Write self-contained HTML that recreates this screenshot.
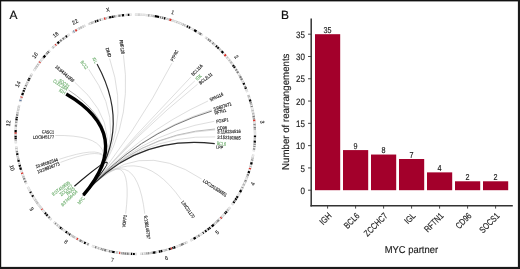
<!DOCTYPE html>
<html><head><meta charset="utf-8"><style>
html,body{margin:0;padding:0;background:#fff;}
body{width:520px;height:269px;overflow:hidden;position:relative;}
svg{position:absolute;left:0;top:0;will-change:transform;}
text{font-family:"Liberation Sans",sans-serif;text-rendering:geometricPrecision;}
</style></head><body>
<svg width="520" height="269" viewBox="0 0 520 269">
<rect x="0" y="0" width="520" height="269" fill="#fff"/>
<text x="0" y="0" transform="translate(9.60 18.70)" font-size="11.9" text-anchor="start" fill="#111" stroke="#111" stroke-width="0.2">A</text>
<text x="0" y="0" transform="translate(281.00 18.50)" font-size="11.9" text-anchor="start" fill="#111" stroke="#111" stroke-width="0.2">B</text>
<path d="M134.88,14.60A119.7,119.7 0 0 1 202.64,35.34" stroke="#d4d4d4" stroke-width="2.4" fill="none"/>
<path d="M135.20,14.60A119.7,119.7 0 0 1 202.38,35.16" stroke="#f2f2f2" stroke-width="1.40" fill="none"/>
<path d="M135.55,14.60A119.7,119.7 0 0 1 136.41,14.61" stroke="#dedede" stroke-width="2.20" fill="none"/>
<path d="M136.93,14.61A119.7,119.7 0 0 1 137.51,14.62" stroke="#dedede" stroke-width="2.20" fill="none"/>
<path d="M138.49,14.64A119.7,119.7 0 0 1 139.47,14.67" stroke="#b8b8b8" stroke-width="2.20" fill="none"/>
<path d="M140.68,14.72A119.7,119.7 0 0 1 141.69,14.77" stroke="#dedede" stroke-width="2.20" fill="none"/>
<path d="M142.84,14.84A119.7,119.7 0 0 1 143.51,14.88" stroke="#dedede" stroke-width="2.20" fill="none"/>
<path d="M144.20,14.93A119.7,119.7 0 0 1 144.77,14.98" stroke="#dedede" stroke-width="2.20" fill="none"/>
<path d="M146.30,15.11A119.7,119.7 0 0 1 147.47,15.22" stroke="#dedede" stroke-width="2.20" fill="none"/>
<path d="M148.22,15.30A119.7,119.7 0 0 1 149.34,15.43" stroke="#7a7a7a" stroke-width="2.20" fill="none"/>
<path d="M150.88,15.62A119.7,119.7 0 0 1 151.71,15.73" stroke="#b8b8b8" stroke-width="2.20" fill="none"/>
<path d="M152.37,15.82A119.7,119.7 0 0 1 154.57,16.16" stroke="#b8b8b8" stroke-width="2.20" fill="none"/>
<path d="M154.80,16.20A119.7,119.7 0 0 1 159.08,16.99" stroke="#000000" stroke-width="2.20" fill="none"/>
<path d="M160.07,17.19A119.7,119.7 0 0 1 161.09,17.41" stroke="#7a7a7a" stroke-width="2.20" fill="none"/>
<path d="M161.88,17.59A119.7,119.7 0 0 1 163.28,17.92" stroke="#7a7a7a" stroke-width="2.20" fill="none"/>
<path d="M163.98,18.09A119.7,119.7 0 0 1 165.35,18.43" stroke="#000000" stroke-width="2.20" fill="none"/>
<path d="M166.61,18.77A119.7,119.7 0 0 1 167.67,19.06" stroke="#b8b8b8" stroke-width="2.20" fill="none"/>
<path d="M168.44,19.28A119.7,119.7 0 0 1 169.25,19.51" stroke="#b8b8b8" stroke-width="2.20" fill="none"/>
<path d="M169.47,19.58A119.7,119.7 0 0 1 171.51,20.21" stroke="#d92f27" stroke-width="2.20" fill="none"/>
<path d="M171.51,20.21A119.7,119.7 0 0 1 175.26,21.47" stroke="#dcdcdc" stroke-width="2.20" fill="none"/>
<path d="M176.45,21.90A119.7,119.7 0 0 1 177.34,22.23" stroke="#b8b8b8" stroke-width="2.20" fill="none"/>
<path d="M178.61,22.71A119.7,119.7 0 0 1 179.02,22.87" stroke="#b8b8b8" stroke-width="2.20" fill="none"/>
<path d="M179.71,23.14A119.7,119.7 0 0 1 180.09,23.30" stroke="#b8b8b8" stroke-width="2.20" fill="none"/>
<path d="M181.42,23.84A119.7,119.7 0 0 1 181.88,24.03" stroke="#b8b8b8" stroke-width="2.20" fill="none"/>
<path d="M182.86,24.45A119.7,119.7 0 0 1 183.39,24.68" stroke="#7a7a7a" stroke-width="2.20" fill="none"/>
<path d="M184.20,25.05A119.7,119.7 0 0 1 185.33,25.56" stroke="#b8b8b8" stroke-width="2.20" fill="none"/>
<path d="M186.77,26.23A119.7,119.7 0 0 1 188.07,26.86" stroke="#000000" stroke-width="2.20" fill="none"/>
<path d="M188.85,27.24A119.7,119.7 0 0 1 190.11,27.89" stroke="#000000" stroke-width="2.20" fill="none"/>
<path d="M192.28,29.03A119.7,119.7 0 0 1 193.37,29.63" stroke="#dedede" stroke-width="2.20" fill="none"/>
<path d="M194.12,30.05A119.7,119.7 0 0 1 196.52,31.44" stroke="#000000" stroke-width="2.20" fill="none"/>
<path d="M198.39,32.58A119.7,119.7 0 0 1 199.59,33.33" stroke="#b8b8b8" stroke-width="2.20" fill="none"/>
<path d="M199.59,33.33A119.7,119.7 0 0 1 201.31,34.45" stroke="#7a7a7a" stroke-width="2.20" fill="none"/>
<path d="M205.21,37.13A119.7,119.7 0 0 1 247.30,92.05" stroke="#d4d4d4" stroke-width="2.4" fill="none"/>
<path d="M205.46,37.32A119.7,119.7 0 0 1 247.19,91.76" stroke="#f2f2f2" stroke-width="1.40" fill="none"/>
<path d="M206.23,37.88A119.7,119.7 0 0 1 206.86,38.35" stroke="#b8b8b8" stroke-width="2.20" fill="none"/>
<path d="M208.03,39.23A119.7,119.7 0 0 1 209.06,40.03" stroke="#7a7a7a" stroke-width="2.20" fill="none"/>
<path d="M209.63,40.47A119.7,119.7 0 0 1 210.71,41.34" stroke="#7a7a7a" stroke-width="2.20" fill="none"/>
<path d="M211.58,42.05A119.7,119.7 0 0 1 212.05,42.44" stroke="#dedede" stroke-width="2.20" fill="none"/>
<path d="M212.51,42.83A119.7,119.7 0 0 1 213.50,43.67" stroke="#7a7a7a" stroke-width="2.20" fill="none"/>
<path d="M213.94,44.05A119.7,119.7 0 0 1 214.63,44.66" stroke="#b8b8b8" stroke-width="2.20" fill="none"/>
<path d="M215.92,45.82A119.7,119.7 0 0 1 217.00,46.82" stroke="#000000" stroke-width="2.20" fill="none"/>
<path d="M217.44,47.23A119.7,119.7 0 0 1 218.75,48.49" stroke="#000000" stroke-width="2.20" fill="none"/>
<path d="M219.33,49.05A119.7,119.7 0 0 1 220.25,49.97" stroke="#b8b8b8" stroke-width="2.20" fill="none"/>
<path d="M220.84,50.57A119.7,119.7 0 0 1 221.24,50.98" stroke="#b8b8b8" stroke-width="2.20" fill="none"/>
<path d="M221.54,51.29A119.7,119.7 0 0 1 223.19,53.03" stroke="#000000" stroke-width="2.20" fill="none"/>
<path d="M224.58,54.57A119.7,119.7 0 0 1 225.78,55.94" stroke="#d92f27" stroke-width="2.20" fill="none"/>
<path d="M226.89,57.23A119.7,119.7 0 0 1 227.50,57.96" stroke="#b8b8b8" stroke-width="2.20" fill="none"/>
<path d="M227.78,58.30A119.7,119.7 0 0 1 228.27,58.90" stroke="#dedede" stroke-width="2.20" fill="none"/>
<path d="M229.03,59.85A119.7,119.7 0 0 1 229.81,60.85" stroke="#b8b8b8" stroke-width="2.20" fill="none"/>
<path d="M230.45,61.67A119.7,119.7 0 0 1 231.74,63.40" stroke="#b8b8b8" stroke-width="2.20" fill="none"/>
<path d="M232.19,64.01A119.7,119.7 0 0 1 232.63,64.62" stroke="#dedede" stroke-width="2.20" fill="none"/>
<path d="M232.91,65.02A119.7,119.7 0 0 1 233.80,66.29" stroke="#000000" stroke-width="2.20" fill="none"/>
<path d="M234.11,66.74A119.7,119.7 0 0 1 234.86,67.84" stroke="#000000" stroke-width="2.20" fill="none"/>
<path d="M235.05,68.13A119.7,119.7 0 0 1 235.15,68.28" stroke="#dedede" stroke-width="2.20" fill="none"/>
<path d="M235.84,69.34A119.7,119.7 0 0 1 236.60,70.53" stroke="#7a7a7a" stroke-width="2.20" fill="none"/>
<path d="M237.20,71.49A119.7,119.7 0 0 1 238.09,72.97" stroke="#7a7a7a" stroke-width="2.20" fill="none"/>
<path d="M239.30,75.04A119.7,119.7 0 0 1 239.67,75.69" stroke="#b8b8b8" stroke-width="2.20" fill="none"/>
<path d="M240.01,76.30A119.7,119.7 0 0 1 240.89,77.92" stroke="#7a7a7a" stroke-width="2.20" fill="none"/>
<path d="M241.23,78.56A119.7,119.7 0 0 1 241.96,79.97" stroke="#7a7a7a" stroke-width="2.20" fill="none"/>
<path d="M242.72,81.49A119.7,119.7 0 0 1 242.92,81.90" stroke="#b8b8b8" stroke-width="2.20" fill="none"/>
<path d="M243.44,82.97A119.7,119.7 0 0 1 244.20,84.62" stroke="#000000" stroke-width="2.20" fill="none"/>
<path d="M244.93,86.25A119.7,119.7 0 0 1 245.36,87.23" stroke="#7a7a7a" stroke-width="2.20" fill="none"/>
<path d="M245.46,87.47A119.7,119.7 0 0 1 246.01,88.78" stroke="#000000" stroke-width="2.20" fill="none"/>
<path d="M246.50,90.01A119.7,119.7 0 0 1 246.68,90.46" stroke="#b8b8b8" stroke-width="2.20" fill="none"/>
<path d="M248.36,95.00A119.7,119.7 0 0 1 253.78,151.35" stroke="#d4d4d4" stroke-width="2.4" fill="none"/>
<path d="M248.47,95.29A119.7,119.7 0 0 1 253.82,151.04" stroke="#f2f2f2" stroke-width="1.40" fill="none"/>
<path d="M248.36,95.00A119.7,119.7 0 0 1 248.63,95.76" stroke="#b8b8b8" stroke-width="2.20" fill="none"/>
<path d="M248.74,96.09A119.7,119.7 0 0 1 249.16,97.38" stroke="#b8b8b8" stroke-width="2.20" fill="none"/>
<path d="M249.44,98.23A119.7,119.7 0 0 1 249.57,98.64" stroke="#dedede" stroke-width="2.20" fill="none"/>
<path d="M249.83,99.50A119.7,119.7 0 0 1 250.44,101.57" stroke="#000000" stroke-width="2.20" fill="none"/>
<path d="M250.63,102.27A119.7,119.7 0 0 1 250.98,103.52" stroke="#7a7a7a" stroke-width="2.20" fill="none"/>
<path d="M251.06,103.86A119.7,119.7 0 0 1 251.38,105.09" stroke="#b8b8b8" stroke-width="2.20" fill="none"/>
<path d="M251.58,105.90A119.7,119.7 0 0 1 251.87,107.11" stroke="#7a7a7a" stroke-width="2.20" fill="none"/>
<path d="M252.31,109.05A119.7,119.7 0 0 1 252.41,109.53" stroke="#dedede" stroke-width="2.20" fill="none"/>
<path d="M252.53,110.12A119.7,119.7 0 0 1 252.77,111.31" stroke="#b8b8b8" stroke-width="2.20" fill="none"/>
<path d="M253.05,112.76A119.7,119.7 0 0 1 253.35,114.49" stroke="#b8b8b8" stroke-width="2.20" fill="none"/>
<path d="M253.55,115.75A119.7,119.7 0 0 1 253.79,117.34" stroke="#7a7a7a" stroke-width="2.20" fill="none"/>
<path d="M253.94,118.40A119.7,119.7 0 0 1 254.08,119.46" stroke="#7a7a7a" stroke-width="2.20" fill="none"/>
<path d="M254.10,119.66A119.7,119.7 0 0 1 254.30,121.38" stroke="#d92f27" stroke-width="2.20" fill="none"/>
<path d="M254.30,121.38A119.7,119.7 0 0 1 254.43,122.64" stroke="#dcdcdc" stroke-width="2.20" fill="none"/>
<path d="M254.48,123.13A119.7,119.7 0 0 1 254.50,123.39" stroke="#dedede" stroke-width="2.20" fill="none"/>
<path d="M254.55,123.94A119.7,119.7 0 0 1 254.63,124.92" stroke="#7a7a7a" stroke-width="2.20" fill="none"/>
<path d="M254.67,125.40A119.7,119.7 0 0 1 254.74,126.38" stroke="#b8b8b8" stroke-width="2.20" fill="none"/>
<path d="M254.78,127.02A119.7,119.7 0 0 1 254.84,128.11" stroke="#7a7a7a" stroke-width="2.20" fill="none"/>
<path d="M254.86,128.60A119.7,119.7 0 0 1 254.90,129.44" stroke="#7a7a7a" stroke-width="2.20" fill="none"/>
<path d="M254.92,129.99A119.7,119.7 0 0 1 254.94,130.56" stroke="#dedede" stroke-width="2.20" fill="none"/>
<path d="M254.97,131.54A119.7,119.7 0 0 1 254.99,132.84" stroke="#dedede" stroke-width="2.20" fill="none"/>
<path d="M255.00,133.42A119.7,119.7 0 0 1 255.00,134.29" stroke="#dedede" stroke-width="2.20" fill="none"/>
<path d="M254.99,135.47A119.7,119.7 0 0 1 254.96,137.23" stroke="#000000" stroke-width="2.20" fill="none"/>
<path d="M254.94,138.15A119.7,119.7 0 0 1 254.91,138.99" stroke="#b8b8b8" stroke-width="2.20" fill="none"/>
<path d="M254.88,139.57A119.7,119.7 0 0 1 254.86,140.14" stroke="#b8b8b8" stroke-width="2.20" fill="none"/>
<path d="M254.83,140.63A119.7,119.7 0 0 1 254.71,142.62" stroke="#000000" stroke-width="2.20" fill="none"/>
<path d="M254.64,143.57A119.7,119.7 0 0 1 254.53,144.95" stroke="#7a7a7a" stroke-width="2.20" fill="none"/>
<path d="M254.44,145.90A119.7,119.7 0 0 1 254.33,146.96" stroke="#7a7a7a" stroke-width="2.20" fill="none"/>
<path d="M254.27,147.48A119.7,119.7 0 0 1 254.22,147.91" stroke="#dedede" stroke-width="2.20" fill="none"/>
<path d="M254.16,148.45A119.7,119.7 0 0 1 254.00,149.71" stroke="#7a7a7a" stroke-width="2.20" fill="none"/>
<path d="M253.29,154.44A119.7,119.7 0 0 1 232.02,204.82" stroke="#d4d4d4" stroke-width="2.4" fill="none"/>
<path d="M253.24,154.75A119.7,119.7 0 0 1 232.21,204.57" stroke="#f2f2f2" stroke-width="1.40" fill="none"/>
<path d="M253.07,155.72A119.7,119.7 0 0 1 252.99,156.15" stroke="#dedede" stroke-width="2.20" fill="none"/>
<path d="M252.70,157.65A119.7,119.7 0 0 1 252.48,158.75" stroke="#b8b8b8" stroke-width="2.20" fill="none"/>
<path d="M252.32,159.49A119.7,119.7 0 0 1 252.10,160.47" stroke="#7a7a7a" stroke-width="2.20" fill="none"/>
<path d="M251.69,162.27A119.7,119.7 0 0 1 251.12,164.54" stroke="#000000" stroke-width="2.20" fill="none"/>
<path d="M250.71,166.05A119.7,119.7 0 0 1 250.45,166.99" stroke="#b8b8b8" stroke-width="2.20" fill="none"/>
<path d="M250.16,167.99A119.7,119.7 0 0 1 249.79,169.23" stroke="#d92f27" stroke-width="2.20" fill="none"/>
<path d="M249.20,171.11A119.7,119.7 0 0 1 248.55,173.05" stroke="#000000" stroke-width="2.20" fill="none"/>
<path d="M248.18,174.11A119.7,119.7 0 0 1 247.62,175.69" stroke="#7a7a7a" stroke-width="2.20" fill="none"/>
<path d="M247.35,176.39A119.7,119.7 0 0 1 247.00,177.34" stroke="#b8b8b8" stroke-width="2.20" fill="none"/>
<path d="M246.82,177.79A119.7,119.7 0 0 1 246.52,178.55" stroke="#dedede" stroke-width="2.20" fill="none"/>
<path d="M245.88,180.12A119.7,119.7 0 0 1 245.47,181.11" stroke="#7a7a7a" stroke-width="2.20" fill="none"/>
<path d="M245.31,181.48A119.7,119.7 0 0 1 245.06,182.06" stroke="#7a7a7a" stroke-width="2.20" fill="none"/>
<path d="M244.28,183.80A119.7,119.7 0 0 1 243.49,185.51" stroke="#b8b8b8" stroke-width="2.20" fill="none"/>
<path d="M242.65,187.25A119.7,119.7 0 0 1 242.28,188.00" stroke="#7a7a7a" stroke-width="2.20" fill="none"/>
<path d="M241.61,189.31A119.7,119.7 0 0 1 241.32,189.87" stroke="#b8b8b8" stroke-width="2.20" fill="none"/>
<path d="M241.18,190.13A119.7,119.7 0 0 1 240.03,192.26" stroke="#000000" stroke-width="2.20" fill="none"/>
<path d="M239.75,192.76A119.7,119.7 0 0 1 239.00,194.09" stroke="#dedede" stroke-width="2.20" fill="none"/>
<path d="M238.75,194.52A119.7,119.7 0 0 1 238.37,195.17" stroke="#dedede" stroke-width="2.20" fill="none"/>
<path d="M237.70,196.28A119.7,119.7 0 0 1 236.77,197.80" stroke="#000000" stroke-width="2.20" fill="none"/>
<path d="M236.35,198.46A119.7,119.7 0 0 1 235.47,199.82" stroke="#000000" stroke-width="2.20" fill="none"/>
<path d="M235.19,200.26A119.7,119.7 0 0 1 234.48,201.31" stroke="#7a7a7a" stroke-width="2.20" fill="none"/>
<path d="M234.29,201.60A119.7,119.7 0 0 1 233.36,202.95" stroke="#000000" stroke-width="2.20" fill="none"/>
<path d="M232.71,203.87A119.7,119.7 0 0 1 232.02,204.82" stroke="#dedede" stroke-width="2.20" fill="none"/>
<path d="M230.14,207.33A119.7,119.7 0 0 1 190.40,240.56" stroke="#d4d4d4" stroke-width="2.4" fill="none"/>
<path d="M229.95,207.58A119.7,119.7 0 0 1 190.68,240.42" stroke="#f2f2f2" stroke-width="1.40" fill="none"/>
<path d="M229.34,208.35A119.7,119.7 0 0 1 229.02,208.76" stroke="#dedede" stroke-width="2.20" fill="none"/>
<path d="M228.39,209.55A119.7,119.7 0 0 1 227.44,210.71" stroke="#b8b8b8" stroke-width="2.20" fill="none"/>
<path d="M226.81,211.46A119.7,119.7 0 0 1 225.89,212.54" stroke="#000000" stroke-width="2.20" fill="none"/>
<path d="M225.65,212.82A119.7,119.7 0 0 1 224.83,213.75" stroke="#000000" stroke-width="2.20" fill="none"/>
<path d="M223.88,214.81A119.7,119.7 0 0 1 222.98,215.78" stroke="#dedede" stroke-width="2.20" fill="none"/>
<path d="M222.17,216.65A119.7,119.7 0 0 1 221.46,217.40" stroke="#b8b8b8" stroke-width="2.20" fill="none"/>
<path d="M221.46,217.40A119.7,119.7 0 0 1 220.53,218.35" stroke="#d92f27" stroke-width="2.20" fill="none"/>
<path d="M218.85,220.02A119.7,119.7 0 0 1 218.02,220.82" stroke="#7a7a7a" stroke-width="2.20" fill="none"/>
<path d="M217.96,220.88A119.7,119.7 0 0 1 217.22,221.57" stroke="#7a7a7a" stroke-width="2.20" fill="none"/>
<path d="M216.87,221.91A119.7,119.7 0 0 1 215.83,222.87" stroke="#b8b8b8" stroke-width="2.20" fill="none"/>
<path d="M215.05,223.56A119.7,119.7 0 0 1 214.08,224.42" stroke="#b8b8b8" stroke-width="2.20" fill="none"/>
<path d="M213.78,224.69A119.7,119.7 0 0 1 211.68,226.46" stroke="#000000" stroke-width="2.20" fill="none"/>
<path d="M210.37,227.54A119.7,119.7 0 0 1 209.33,228.36" stroke="#000000" stroke-width="2.20" fill="none"/>
<path d="M208.94,228.67A119.7,119.7 0 0 1 207.78,229.57" stroke="#000000" stroke-width="2.20" fill="none"/>
<path d="M207.34,229.90A119.7,119.7 0 0 1 206.97,230.17" stroke="#b8b8b8" stroke-width="2.20" fill="none"/>
<path d="M206.48,230.53A119.7,119.7 0 0 1 205.04,231.59" stroke="#000000" stroke-width="2.20" fill="none"/>
<path d="M203.64,232.57A119.7,119.7 0 0 1 202.86,233.11" stroke="#000000" stroke-width="2.20" fill="none"/>
<path d="M201.52,234.01A119.7,119.7 0 0 1 200.72,234.54" stroke="#dedede" stroke-width="2.20" fill="none"/>
<path d="M199.51,235.32A119.7,119.7 0 0 1 198.22,236.13" stroke="#7a7a7a" stroke-width="2.20" fill="none"/>
<path d="M197.50,236.57A119.7,119.7 0 0 1 196.76,237.02" stroke="#b8b8b8" stroke-width="2.20" fill="none"/>
<path d="M195.72,237.63A119.7,119.7 0 0 1 193.56,238.86" stroke="#000000" stroke-width="2.20" fill="none"/>
<path d="M192.47,239.46A119.7,119.7 0 0 1 191.51,239.98" stroke="#dedede" stroke-width="2.20" fill="none"/>
<path d="M187.60,241.97A119.7,119.7 0 0 1 140.04,253.91" stroke="#d4d4d4" stroke-width="2.4" fill="none"/>
<path d="M187.32,242.10A119.7,119.7 0 0 1 140.35,253.89" stroke="#f2f2f2" stroke-width="1.40" fill="none"/>
<path d="M187.01,242.26A119.7,119.7 0 0 1 186.51,242.49" stroke="#dedede" stroke-width="2.20" fill="none"/>
<path d="M185.75,242.85A119.7,119.7 0 0 1 184.84,243.27" stroke="#b8b8b8" stroke-width="2.20" fill="none"/>
<path d="M184.57,243.39A119.7,119.7 0 0 1 184.10,243.60" stroke="#dedede" stroke-width="2.20" fill="none"/>
<path d="M183.62,243.81A119.7,119.7 0 0 1 180.97,244.95" stroke="#7a7a7a" stroke-width="2.20" fill="none"/>
<path d="M180.49,245.14A119.7,119.7 0 0 1 179.58,245.51" stroke="#b8b8b8" stroke-width="2.20" fill="none"/>
<path d="M179.12,245.69A119.7,119.7 0 0 1 178.75,245.84" stroke="#dedede" stroke-width="2.20" fill="none"/>
<path d="M177.91,246.16A119.7,119.7 0 0 1 176.86,246.55" stroke="#dedede" stroke-width="2.20" fill="none"/>
<path d="M175.31,247.11A119.7,119.7 0 0 1 173.78,247.64" stroke="#000000" stroke-width="2.20" fill="none"/>
<path d="M173.48,247.75A119.7,119.7 0 0 1 172.36,248.12" stroke="#000000" stroke-width="2.20" fill="none"/>
<path d="M171.89,248.27A119.7,119.7 0 0 1 170.63,248.67" stroke="#d92f27" stroke-width="2.20" fill="none"/>
<path d="M170.60,248.68A119.7,119.7 0 0 1 168.77,249.22" stroke="#000000" stroke-width="2.20" fill="none"/>
<path d="M167.14,249.69A119.7,119.7 0 0 1 164.90,250.28" stroke="#b8b8b8" stroke-width="2.20" fill="none"/>
<path d="M164.63,250.35A119.7,119.7 0 0 1 163.76,250.57" stroke="#b8b8b8" stroke-width="2.20" fill="none"/>
<path d="M162.33,250.91A119.7,119.7 0 0 1 160.52,251.31" stroke="#000000" stroke-width="2.20" fill="none"/>
<path d="M160.21,251.38A119.7,119.7 0 0 1 158.83,251.67" stroke="#000000" stroke-width="2.20" fill="none"/>
<path d="M156.25,252.15A119.7,119.7 0 0 1 155.19,252.34" stroke="#7a7a7a" stroke-width="2.20" fill="none"/>
<path d="M155.14,252.34A119.7,119.7 0 0 1 152.97,252.69" stroke="#000000" stroke-width="2.20" fill="none"/>
<path d="M152.69,252.73A119.7,119.7 0 0 1 151.77,252.86" stroke="#7a7a7a" stroke-width="2.20" fill="none"/>
<path d="M151.51,252.90A119.7,119.7 0 0 1 150.37,253.05" stroke="#b8b8b8" stroke-width="2.20" fill="none"/>
<path d="M149.28,253.18A119.7,119.7 0 0 1 148.19,253.30" stroke="#7a7a7a" stroke-width="2.20" fill="none"/>
<path d="M147.39,253.39A119.7,119.7 0 0 1 146.41,253.48" stroke="#7a7a7a" stroke-width="2.20" fill="none"/>
<path d="M145.40,253.57A119.7,119.7 0 0 1 144.54,253.64" stroke="#b8b8b8" stroke-width="2.20" fill="none"/>
<path d="M142.96,253.75A119.7,119.7 0 0 1 141.95,253.82" stroke="#b8b8b8" stroke-width="2.20" fill="none"/>
<path d="M136.91,253.99A119.7,119.7 0 0 1 91.98,245.89" stroke="#d4d4d4" stroke-width="2.4" fill="none"/>
<path d="M136.59,253.99A119.7,119.7 0 0 1 92.28,246.00" stroke="#f2f2f2" stroke-width="1.40" fill="none"/>
<path d="M136.10,254.00A119.7,119.7 0 0 1 135.61,254.00" stroke="#dedede" stroke-width="2.20" fill="none"/>
<path d="M134.80,254.00A119.7,119.7 0 0 1 132.93,253.98" stroke="#000000" stroke-width="2.20" fill="none"/>
<path d="M132.15,253.96A119.7,119.7 0 0 1 130.88,253.92" stroke="#000000" stroke-width="2.20" fill="none"/>
<path d="M129.55,253.86A119.7,119.7 0 0 1 128.83,253.83" stroke="#b8b8b8" stroke-width="2.20" fill="none"/>
<path d="M128.60,253.81A119.7,119.7 0 0 1 126.81,253.70" stroke="#7a7a7a" stroke-width="2.20" fill="none"/>
<path d="M126.18,253.65A119.7,119.7 0 0 1 124.43,253.51" stroke="#7a7a7a" stroke-width="2.20" fill="none"/>
<path d="M123.82,253.45A119.7,119.7 0 0 1 122.79,253.34" stroke="#7a7a7a" stroke-width="2.20" fill="none"/>
<path d="M122.36,253.30A119.7,119.7 0 0 1 121.35,253.18" stroke="#7a7a7a" stroke-width="2.20" fill="none"/>
<path d="M120.21,253.04A119.7,119.7 0 0 1 119.15,252.91" stroke="#d92f27" stroke-width="2.20" fill="none"/>
<path d="M117.64,252.69A119.7,119.7 0 0 1 116.15,252.46" stroke="#b8b8b8" stroke-width="2.20" fill="none"/>
<path d="M114.64,252.20A119.7,119.7 0 0 1 112.12,251.73" stroke="#000000" stroke-width="2.20" fill="none"/>
<path d="M111.61,251.63A119.7,119.7 0 0 1 110.79,251.46" stroke="#7a7a7a" stroke-width="2.20" fill="none"/>
<path d="M110.31,251.36A119.7,119.7 0 0 1 108.84,251.04" stroke="#7a7a7a" stroke-width="2.20" fill="none"/>
<path d="M107.21,250.66A119.7,119.7 0 0 1 107.02,250.61" stroke="#b8b8b8" stroke-width="2.20" fill="none"/>
<path d="M106.21,250.41A119.7,119.7 0 0 1 104.19,249.89" stroke="#7a7a7a" stroke-width="2.20" fill="none"/>
<path d="M103.41,249.68A119.7,119.7 0 0 1 102.39,249.39" stroke="#7a7a7a" stroke-width="2.20" fill="none"/>
<path d="M101.64,249.17A119.7,119.7 0 0 1 100.72,248.90" stroke="#7a7a7a" stroke-width="2.20" fill="none"/>
<path d="M100.15,248.72A119.7,119.7 0 0 1 99.81,248.62" stroke="#dedede" stroke-width="2.20" fill="none"/>
<path d="M99.21,248.43A119.7,119.7 0 0 1 97.67,247.93" stroke="#b8b8b8" stroke-width="2.20" fill="none"/>
<path d="M96.33,247.48A119.7,119.7 0 0 1 95.02,247.02" stroke="#7a7a7a" stroke-width="2.20" fill="none"/>
<path d="M93.75,246.56A119.7,119.7 0 0 1 93.07,246.30" stroke="#dedede" stroke-width="2.20" fill="none"/>
<path d="M89.08,244.72A119.7,119.7 0 0 1 53.76,221.94" stroke="#d4d4d4" stroke-width="2.4" fill="none"/>
<path d="M88.79,244.59A119.7,119.7 0 0 1 53.99,222.15" stroke="#f2f2f2" stroke-width="1.40" fill="none"/>
<path d="M88.49,244.47A119.7,119.7 0 0 1 87.43,244.01" stroke="#7a7a7a" stroke-width="2.20" fill="none"/>
<path d="M85.72,243.25A119.7,119.7 0 0 1 84.07,242.48" stroke="#000000" stroke-width="2.20" fill="none"/>
<path d="M82.95,241.95A119.7,119.7 0 0 1 81.89,241.42" stroke="#b8b8b8" stroke-width="2.20" fill="none"/>
<path d="M81.53,241.24A119.7,119.7 0 0 1 79.55,240.23" stroke="#7a7a7a" stroke-width="2.20" fill="none"/>
<path d="M79.09,239.98A119.7,119.7 0 0 1 78.74,239.79" stroke="#dedede" stroke-width="2.20" fill="none"/>
<path d="M77.87,239.32A119.7,119.7 0 0 1 76.61,238.62" stroke="#d92f27" stroke-width="2.20" fill="none"/>
<path d="M75.58,238.04A119.7,119.7 0 0 1 75.48,237.98" stroke="#7a7a7a" stroke-width="2.20" fill="none"/>
<path d="M74.76,237.56A119.7,119.7 0 0 1 73.25,236.66" stroke="#b8b8b8" stroke-width="2.20" fill="none"/>
<path d="M73.10,236.57A119.7,119.7 0 0 1 72.16,236.00" stroke="#b8b8b8" stroke-width="2.20" fill="none"/>
<path d="M71.67,235.69A119.7,119.7 0 0 1 71.06,235.30" stroke="#b8b8b8" stroke-width="2.20" fill="none"/>
<path d="M70.24,234.77A119.7,119.7 0 0 1 69.18,234.08" stroke="#000000" stroke-width="2.20" fill="none"/>
<path d="M68.74,233.79A119.7,119.7 0 0 1 67.67,233.06" stroke="#7a7a7a" stroke-width="2.20" fill="none"/>
<path d="M67.12,232.69A119.7,119.7 0 0 1 65.61,231.62" stroke="#000000" stroke-width="2.20" fill="none"/>
<path d="M64.28,230.66A119.7,119.7 0 0 1 63.68,230.21" stroke="#dedede" stroke-width="2.20" fill="none"/>
<path d="M62.62,229.41A119.7,119.7 0 0 1 61.64,228.65" stroke="#7a7a7a" stroke-width="2.20" fill="none"/>
<path d="M61.27,228.36A119.7,119.7 0 0 1 60.01,227.36" stroke="#000000" stroke-width="2.20" fill="none"/>
<path d="M59.67,227.08A119.7,119.7 0 0 1 58.94,226.48" stroke="#b8b8b8" stroke-width="2.20" fill="none"/>
<path d="M57.88,225.59A119.7,119.7 0 0 1 56.96,224.80" stroke="#b8b8b8" stroke-width="2.20" fill="none"/>
<path d="M55.89,223.87A119.7,119.7 0 0 1 55.14,223.19" stroke="#7a7a7a" stroke-width="2.20" fill="none"/>
<path d="M51.50,219.77A119.7,119.7 0 0 1 27.77,186.88" stroke="#d4d4d4" stroke-width="2.4" fill="none"/>
<path d="M51.27,219.55A119.7,119.7 0 0 1 27.90,187.16" stroke="#f2f2f2" stroke-width="1.40" fill="none"/>
<path d="M51.05,219.33A119.7,119.7 0 0 1 50.56,218.84" stroke="#dedede" stroke-width="2.20" fill="none"/>
<path d="M49.66,217.93A119.7,119.7 0 0 1 48.62,216.85" stroke="#7a7a7a" stroke-width="2.20" fill="none"/>
<path d="M48.15,216.35A119.7,119.7 0 0 1 47.77,215.95" stroke="#dedede" stroke-width="2.20" fill="none"/>
<path d="M47.50,215.65A119.7,119.7 0 0 1 46.39,214.44" stroke="#000000" stroke-width="2.20" fill="none"/>
<path d="M45.92,213.92A119.7,119.7 0 0 1 44.93,212.80" stroke="#000000" stroke-width="2.20" fill="none"/>
<path d="M44.35,212.12A119.7,119.7 0 0 1 43.95,211.66" stroke="#dedede" stroke-width="2.20" fill="none"/>
<path d="M43.47,211.08A119.7,119.7 0 0 1 42.99,210.51" stroke="#dcdcdc" stroke-width="2.20" fill="none"/>
<path d="M42.32,209.68A119.7,119.7 0 0 1 41.70,208.91" stroke="#d92f27" stroke-width="2.20" fill="none"/>
<path d="M41.70,208.91A119.7,119.7 0 0 1 39.03,205.43" stroke="#dcdcdc" stroke-width="2.20" fill="none"/>
<path d="M38.55,204.78A119.7,119.7 0 0 1 37.96,203.96" stroke="#dedede" stroke-width="2.20" fill="none"/>
<path d="M37.66,203.54A119.7,119.7 0 0 1 36.80,202.31" stroke="#b8b8b8" stroke-width="2.20" fill="none"/>
<path d="M36.49,201.86A119.7,119.7 0 0 1 36.00,201.14" stroke="#b8b8b8" stroke-width="2.20" fill="none"/>
<path d="M35.55,200.47A119.7,119.7 0 0 1 35.00,199.63" stroke="#b8b8b8" stroke-width="2.20" fill="none"/>
<path d="M34.78,199.29A119.7,119.7 0 0 1 34.45,198.78" stroke="#dedede" stroke-width="2.20" fill="none"/>
<path d="M34.03,198.12A119.7,119.7 0 0 1 33.62,197.46" stroke="#dedede" stroke-width="2.20" fill="none"/>
<path d="M33.12,196.65A119.7,119.7 0 0 1 32.29,195.26" stroke="#000000" stroke-width="2.20" fill="none"/>
<path d="M31.83,194.49A119.7,119.7 0 0 1 31.32,193.59" stroke="#dedede" stroke-width="2.20" fill="none"/>
<path d="M30.92,192.89A119.7,119.7 0 0 1 30.25,191.68" stroke="#000000" stroke-width="2.20" fill="none"/>
<path d="M29.79,190.84A119.7,119.7 0 0 1 29.19,189.69" stroke="#dedede" stroke-width="2.20" fill="none"/>
<path d="M28.76,188.87A119.7,119.7 0 0 1 28.70,188.74" stroke="#dedede" stroke-width="2.20" fill="none"/>
<path d="M28.45,188.25A119.7,119.7 0 0 1 28.25,187.87" stroke="#dedede" stroke-width="2.20" fill="none"/>
<path d="M26.43,184.05A119.7,119.7 0 0 1 16.22,146.47" stroke="#d4d4d4" stroke-width="2.4" fill="none"/>
<path d="M26.30,183.76A119.7,119.7 0 0 1 16.25,146.78" stroke="#f2f2f2" stroke-width="1.40" fill="none"/>
<path d="M26.07,183.26A119.7,119.7 0 0 1 25.98,183.05" stroke="#dedede" stroke-width="2.20" fill="none"/>
<path d="M25.65,182.31A119.7,119.7 0 0 1 25.01,180.82" stroke="#7a7a7a" stroke-width="2.20" fill="none"/>
<path d="M24.45,179.46A119.7,119.7 0 0 1 24.31,179.12" stroke="#7a7a7a" stroke-width="2.20" fill="none"/>
<path d="M24.30,179.09A119.7,119.7 0 0 1 23.88,178.04" stroke="#7a7a7a" stroke-width="2.20" fill="none"/>
<path d="M23.67,177.51A119.7,119.7 0 0 1 23.16,176.16" stroke="#b8b8b8" stroke-width="2.20" fill="none"/>
<path d="M22.99,175.70A119.7,119.7 0 0 1 22.68,174.86" stroke="#dedede" stroke-width="2.20" fill="none"/>
<path d="M22.33,173.88A119.7,119.7 0 0 1 21.93,172.70" stroke="#d92f27" stroke-width="2.20" fill="none"/>
<path d="M21.58,171.66A119.7,119.7 0 0 1 21.24,170.62" stroke="#dedede" stroke-width="2.20" fill="none"/>
<path d="M20.98,169.79A119.7,119.7 0 0 1 20.30,167.50" stroke="#000000" stroke-width="2.20" fill="none"/>
<path d="M20.04,166.58A119.7,119.7 0 0 1 19.57,164.88" stroke="#000000" stroke-width="2.20" fill="none"/>
<path d="M19.26,163.68A119.7,119.7 0 0 1 19.07,162.90" stroke="#b8b8b8" stroke-width="2.20" fill="none"/>
<path d="M18.78,161.69A119.7,119.7 0 0 1 18.40,160.03" stroke="#000000" stroke-width="2.20" fill="none"/>
<path d="M18.30,159.58A119.7,119.7 0 0 1 18.10,158.62" stroke="#7a7a7a" stroke-width="2.20" fill="none"/>
<path d="M18.03,158.28A119.7,119.7 0 0 1 17.86,157.46" stroke="#b8b8b8" stroke-width="2.20" fill="none"/>
<path d="M17.74,156.81A119.7,119.7 0 0 1 17.60,156.07" stroke="#b8b8b8" stroke-width="2.20" fill="none"/>
<path d="M17.54,155.76A119.7,119.7 0 0 1 17.44,155.22" stroke="#dedede" stroke-width="2.20" fill="none"/>
<path d="M17.40,154.96A119.7,119.7 0 0 1 17.11,153.23" stroke="#000000" stroke-width="2.20" fill="none"/>
<path d="M16.97,152.37A119.7,119.7 0 0 1 16.80,151.17" stroke="#7a7a7a" stroke-width="2.20" fill="none"/>
<path d="M16.69,150.43A119.7,119.7 0 0 1 16.64,150.03" stroke="#b8b8b8" stroke-width="2.20" fill="none"/>
<path d="M16.48,148.77A119.7,119.7 0 0 1 16.37,147.88" stroke="#b8b8b8" stroke-width="2.20" fill="none"/>
<path d="M15.94,143.34A119.7,119.7 0 0 1 19.24,105.02" stroke="#d4d4d4" stroke-width="2.4" fill="none"/>
<path d="M15.92,143.03A119.7,119.7 0 0 1 19.16,105.33" stroke="#f2f2f2" stroke-width="1.40" fill="none"/>
<path d="M15.87,142.39A119.7,119.7 0 0 1 15.83,141.79" stroke="#dedede" stroke-width="2.20" fill="none"/>
<path d="M15.76,140.44A119.7,119.7 0 0 1 15.72,139.66" stroke="#7a7a7a" stroke-width="2.20" fill="none"/>
<path d="M15.70,139.08A119.7,119.7 0 0 1 15.64,137.58" stroke="#000000" stroke-width="2.20" fill="none"/>
<path d="M15.64,137.21A119.7,119.7 0 0 1 15.61,135.70" stroke="#000000" stroke-width="2.20" fill="none"/>
<path d="M15.60,135.33A119.7,119.7 0 0 1 15.60,134.49" stroke="#b8b8b8" stroke-width="2.20" fill="none"/>
<path d="M15.60,133.74A119.7,119.7 0 0 1 15.62,132.33" stroke="#d92f27" stroke-width="2.20" fill="none"/>
<path d="M15.62,132.33A119.7,119.7 0 0 1 15.68,129.96" stroke="#000000" stroke-width="2.20" fill="none"/>
<path d="M15.71,129.18A119.7,119.7 0 0 1 15.74,128.49" stroke="#dedede" stroke-width="2.20" fill="none"/>
<path d="M15.79,127.51A119.7,119.7 0 0 1 15.82,127.02" stroke="#dedede" stroke-width="2.20" fill="none"/>
<path d="M15.85,126.59A119.7,119.7 0 0 1 15.95,125.15" stroke="#7a7a7a" stroke-width="2.20" fill="none"/>
<path d="M16.00,124.57A119.7,119.7 0 0 1 16.06,123.83" stroke="#b8b8b8" stroke-width="2.20" fill="none"/>
<path d="M16.16,122.74A119.7,119.7 0 0 1 16.27,121.64" stroke="#7a7a7a" stroke-width="2.20" fill="none"/>
<path d="M16.42,120.32A119.7,119.7 0 0 1 16.65,118.49" stroke="#000000" stroke-width="2.20" fill="none"/>
<path d="M16.74,117.83A119.7,119.7 0 0 1 16.89,116.81" stroke="#000000" stroke-width="2.20" fill="none"/>
<path d="M17.04,115.78A119.7,119.7 0 0 1 17.29,114.24" stroke="#7a7a7a" stroke-width="2.20" fill="none"/>
<path d="M17.41,113.59A119.7,119.7 0 0 1 17.67,112.14" stroke="#b8b8b8" stroke-width="2.20" fill="none"/>
<path d="M17.82,111.37A119.7,119.7 0 0 1 17.85,111.20" stroke="#dedede" stroke-width="2.20" fill="none"/>
<path d="M17.96,110.64A119.7,119.7 0 0 1 18.11,109.93" stroke="#b8b8b8" stroke-width="2.20" fill="none"/>
<path d="M18.18,109.56A119.7,119.7 0 0 1 18.34,108.83" stroke="#b8b8b8" stroke-width="2.20" fill="none"/>
<path d="M18.66,107.39A119.7,119.7 0 0 1 18.89,106.41" stroke="#b8b8b8" stroke-width="2.20" fill="none"/>
<path d="M20.04,101.99A119.7,119.7 0 0 1 32.15,73.57" stroke="#d4d4d4" stroke-width="2.4" fill="none"/>
<path d="M20.13,101.69A119.7,119.7 0 0 1 31.99,73.84" stroke="#f2f2f2" stroke-width="1.40" fill="none"/>
<path d="M20.04,101.99A119.7,119.7 0 0 1 20.33,100.97" stroke="#dcdcdc" stroke-width="2.20" fill="none"/>
<path d="M20.33,100.97A119.7,119.7 0 0 1 20.69,99.75" stroke="#647fa4" stroke-width="2.20" fill="none"/>
<path d="M20.69,99.75A119.7,119.7 0 0 1 21.38,97.54" stroke="#dcdcdc" stroke-width="2.20" fill="none"/>
<path d="M21.38,97.54A119.7,119.7 0 0 1 21.65,96.72" stroke="#d92f27" stroke-width="2.20" fill="none"/>
<path d="M22.16,95.22A119.7,119.7 0 0 1 23.00,92.85" stroke="#000000" stroke-width="2.20" fill="none"/>
<path d="M23.21,92.31A119.7,119.7 0 0 1 23.34,91.96" stroke="#b8b8b8" stroke-width="2.20" fill="none"/>
<path d="M23.46,91.64A119.7,119.7 0 0 1 24.06,90.10" stroke="#000000" stroke-width="2.20" fill="none"/>
<path d="M24.46,89.11A119.7,119.7 0 0 1 24.86,88.13" stroke="#000000" stroke-width="2.20" fill="none"/>
<path d="M25.22,87.28A119.7,119.7 0 0 1 25.38,86.90" stroke="#dedede" stroke-width="2.20" fill="none"/>
<path d="M25.68,86.22A119.7,119.7 0 0 1 26.15,85.16" stroke="#7a7a7a" stroke-width="2.20" fill="none"/>
<path d="M26.47,84.45A119.7,119.7 0 0 1 26.85,83.64" stroke="#b8b8b8" stroke-width="2.20" fill="none"/>
<path d="M27.13,83.04A119.7,119.7 0 0 1 27.58,82.10" stroke="#b8b8b8" stroke-width="2.20" fill="none"/>
<path d="M28.28,80.68A119.7,119.7 0 0 1 28.84,79.57" stroke="#000000" stroke-width="2.20" fill="none"/>
<path d="M29.02,79.24A119.7,119.7 0 0 1 29.67,77.99" stroke="#000000" stroke-width="2.20" fill="none"/>
<path d="M29.89,77.58A119.7,119.7 0 0 1 30.28,76.87" stroke="#dedede" stroke-width="2.20" fill="none"/>
<path d="M30.50,76.46A119.7,119.7 0 0 1 31.20,75.21" stroke="#b8b8b8" stroke-width="2.20" fill="none"/>
<path d="M31.50,74.68A119.7,119.7 0 0 1 31.59,74.53" stroke="#b8b8b8" stroke-width="2.20" fill="none"/>
<path d="M33.78,70.89A119.7,119.7 0 0 1 49.88,50.45" stroke="#d4d4d4" stroke-width="2.4" fill="none"/>
<path d="M33.94,70.62A119.7,119.7 0 0 1 49.66,50.67" stroke="#f2f2f2" stroke-width="1.40" fill="none"/>
<path d="M35.00,68.97A119.7,119.7 0 0 1 35.41,68.34" stroke="#b8b8b8" stroke-width="2.20" fill="none"/>
<path d="M35.75,67.83A119.7,119.7 0 0 1 36.10,67.31" stroke="#b8b8b8" stroke-width="2.20" fill="none"/>
<path d="M36.43,66.83A119.7,119.7 0 0 1 37.15,65.78" stroke="#b8b8b8" stroke-width="2.20" fill="none"/>
<path d="M37.65,65.08A119.7,119.7 0 0 1 38.30,64.16" stroke="#b8b8b8" stroke-width="2.20" fill="none"/>
<path d="M39.41,62.65A119.7,119.7 0 0 1 40.11,61.73" stroke="#d92f27" stroke-width="2.20" fill="none"/>
<path d="M40.11,61.73A119.7,119.7 0 0 1 41.60,59.82" stroke="#dcdcdc" stroke-width="2.20" fill="none"/>
<path d="M42.61,58.56A119.7,119.7 0 0 1 43.37,57.64" stroke="#b8b8b8" stroke-width="2.20" fill="none"/>
<path d="M43.49,57.49A119.7,119.7 0 0 1 45.24,55.45" stroke="#000000" stroke-width="2.20" fill="none"/>
<path d="M46.02,54.56A119.7,119.7 0 0 1 46.43,54.11" stroke="#b8b8b8" stroke-width="2.20" fill="none"/>
<path d="M46.66,53.86A119.7,119.7 0 0 1 47.66,52.77" stroke="#7a7a7a" stroke-width="2.20" fill="none"/>
<path d="M48.15,52.25A119.7,119.7 0 0 1 48.65,51.72" stroke="#000000" stroke-width="2.20" fill="none"/>
<path d="M49.23,51.12A119.7,119.7 0 0 1 49.55,50.79" stroke="#dedede" stroke-width="2.20" fill="none"/>
<path d="M52.10,48.24A119.7,119.7 0 0 1 69.68,34.19" stroke="#d4d4d4" stroke-width="2.4" fill="none"/>
<path d="M52.33,48.02A119.7,119.7 0 0 1 69.42,34.36" stroke="#f2f2f2" stroke-width="1.40" fill="none"/>
<path d="M52.71,47.66A119.7,119.7 0 0 1 53.59,46.83" stroke="#b8b8b8" stroke-width="2.20" fill="none"/>
<path d="M53.89,46.55A119.7,119.7 0 0 1 54.39,46.08" stroke="#dedede" stroke-width="2.20" fill="none"/>
<path d="M55.36,45.21A119.7,119.7 0 0 1 56.13,44.52" stroke="#d92f27" stroke-width="2.20" fill="none"/>
<path d="M57.44,43.38A119.7,119.7 0 0 1 59.14,41.95" stroke="#000000" stroke-width="2.20" fill="none"/>
<path d="M60.15,41.13A119.7,119.7 0 0 1 61.57,40.00" stroke="#7a7a7a" stroke-width="2.20" fill="none"/>
<path d="M62.65,39.17A119.7,119.7 0 0 1 63.94,38.20" stroke="#7a7a7a" stroke-width="2.20" fill="none"/>
<path d="M64.49,37.79A119.7,119.7 0 0 1 65.15,37.31" stroke="#b8b8b8" stroke-width="2.20" fill="none"/>
<path d="M65.76,36.87A119.7,119.7 0 0 1 66.98,36.01" stroke="#000000" stroke-width="2.20" fill="none"/>
<path d="M67.43,35.70A119.7,119.7 0 0 1 68.48,34.98" stroke="#dedede" stroke-width="2.20" fill="none"/>
<path d="M72.32,32.51A119.7,119.7 0 0 1 85.36,25.51" stroke="#d4d4d4" stroke-width="2.4" fill="none"/>
<path d="M72.59,32.34A119.7,119.7 0 0 1 85.08,25.64" stroke="#f2f2f2" stroke-width="1.40" fill="none"/>
<path d="M72.32,32.51A119.7,119.7 0 0 1 73.51,31.78" stroke="#dcdcdc" stroke-width="2.20" fill="none"/>
<path d="M73.51,31.78A119.7,119.7 0 0 1 74.42,31.24" stroke="#647fa4" stroke-width="2.20" fill="none"/>
<path d="M74.42,31.24A119.7,119.7 0 0 1 75.35,30.70" stroke="#dcdcdc" stroke-width="2.20" fill="none"/>
<path d="M75.35,30.70A119.7,119.7 0 0 1 76.78,29.88" stroke="#d92f27" stroke-width="2.20" fill="none"/>
<path d="M77.86,29.28A119.7,119.7 0 0 1 78.19,29.10" stroke="#dedede" stroke-width="2.20" fill="none"/>
<path d="M78.80,28.77A119.7,119.7 0 0 1 79.74,28.27" stroke="#b8b8b8" stroke-width="2.20" fill="none"/>
<path d="M80.41,27.93A119.7,119.7 0 0 1 81.80,27.22" stroke="#b8b8b8" stroke-width="2.20" fill="none"/>
<path d="M82.68,26.79A119.7,119.7 0 0 1 83.51,26.38" stroke="#b8b8b8" stroke-width="2.20" fill="none"/>
<path d="M84.61,25.86A119.7,119.7 0 0 1 84.87,25.74" stroke="#b8b8b8" stroke-width="2.20" fill="none"/>
<path d="M88.23,24.24A119.7,119.7 0 0 1 131.74,14.65" stroke="#d4d4d4" stroke-width="2.4" fill="none"/>
<path d="M88.52,24.12A119.7,119.7 0 0 1 131.42,14.66" stroke="#f2f2f2" stroke-width="1.40" fill="none"/>
<path d="M89.37,23.76A119.7,119.7 0 0 1 89.83,23.57" stroke="#b8b8b8" stroke-width="2.20" fill="none"/>
<path d="M90.76,23.19A119.7,119.7 0 0 1 92.81,22.40" stroke="#b8b8b8" stroke-width="2.20" fill="none"/>
<path d="M93.40,22.17A119.7,119.7 0 0 1 94.10,21.91" stroke="#b8b8b8" stroke-width="2.20" fill="none"/>
<path d="M94.92,21.62A119.7,119.7 0 0 1 96.12,21.20" stroke="#000000" stroke-width="2.20" fill="none"/>
<path d="M96.72,20.99A119.7,119.7 0 0 1 98.39,20.43" stroke="#000000" stroke-width="2.20" fill="none"/>
<path d="M99.71,20.01A119.7,119.7 0 0 1 100.81,19.68" stroke="#7a7a7a" stroke-width="2.20" fill="none"/>
<path d="M101.75,19.40A119.7,119.7 0 0 1 103.14,19.00" stroke="#dedede" stroke-width="2.20" fill="none"/>
<path d="M104.06,18.75A119.7,119.7 0 0 1 105.43,18.39" stroke="#d92f27" stroke-width="2.20" fill="none"/>
<path d="M105.87,18.27A119.7,119.7 0 0 1 106.77,18.05" stroke="#b8b8b8" stroke-width="2.20" fill="none"/>
<path d="M107.89,17.78A119.7,119.7 0 0 1 108.48,17.64" stroke="#b8b8b8" stroke-width="2.20" fill="none"/>
<path d="M109.07,17.51A119.7,119.7 0 0 1 111.50,16.99" stroke="#000000" stroke-width="2.20" fill="none"/>
<path d="M111.95,16.90A119.7,119.7 0 0 1 113.54,16.59" stroke="#000000" stroke-width="2.20" fill="none"/>
<path d="M114.02,16.51A119.7,119.7 0 0 1 115.39,16.27" stroke="#7a7a7a" stroke-width="2.20" fill="none"/>
<path d="M116.61,16.07A119.7,119.7 0 0 1 116.93,16.02" stroke="#b8b8b8" stroke-width="2.20" fill="none"/>
<path d="M118.35,15.81A119.7,119.7 0 0 1 120.58,15.51" stroke="#7a7a7a" stroke-width="2.20" fill="none"/>
<path d="M121.85,15.36A119.7,119.7 0 0 1 124.11,15.12" stroke="#000000" stroke-width="2.20" fill="none"/>
<path d="M124.11,15.12A119.7,119.7 0 0 1 125.49,15.00" stroke="#dedede" stroke-width="2.20" fill="none"/>
<path d="M126.76,14.91A119.7,119.7 0 0 1 127.42,14.86" stroke="#7a7a7a" stroke-width="2.20" fill="none"/>
<path d="M127.94,14.83A119.7,119.7 0 0 1 129.38,14.75" stroke="#000000" stroke-width="2.20" fill="none"/>
<text x="0" y="0" dy="0.35em" transform="translate(172.64 12.29) rotate(17.02) scale(0.950 1)" font-size="5.6" text-anchor="middle" fill="#222" stroke="#222" stroke-width="0.1">1</text>
<text x="0" y="0" dy="0.35em" transform="translate(236.58 56.68) rotate(52.53) scale(0.950 1)" font-size="5.6" text-anchor="middle" fill="#222" stroke="#222" stroke-width="0.1">2</text>
<text x="0" y="0" dy="0.35em" transform="translate(262.31 122.09) rotate(84.51) scale(0.950 1)" font-size="5.6" text-anchor="middle" fill="#222" stroke="#222" stroke-width="0.1">3</text>
<text x="0" y="0" dy="0.35em" transform="translate(252.85 183.94) rotate(-67.11) scale(0.950 1)" font-size="5.6" text-anchor="middle" fill="#222" stroke="#222" stroke-width="0.1">4</text>
<text x="0" y="0" dy="0.35em" transform="translate(217.16 232.18) rotate(-39.91) scale(0.950 1)" font-size="5.6" text-anchor="middle" fill="#222" stroke="#222" stroke-width="0.1">5</text>
<text x="0" y="0" dy="0.35em" transform="translate(166.36 258.06) rotate(-14.09) scale(0.950 1)" font-size="5.6" text-anchor="middle" fill="#222" stroke="#222" stroke-width="0.1">6</text>
<text x="0" y="0" dy="0.35em" transform="translate(112.65 259.87) rotate(10.22) scale(0.950 1)" font-size="5.6" text-anchor="middle" fill="#222" stroke="#222" stroke-width="0.1">7</text>
<text x="0" y="0" dy="0.35em" transform="translate(66.13 241.53) rotate(32.83) scale(0.950 1)" font-size="5.6" text-anchor="middle" fill="#222" stroke="#222" stroke-width="0.1">8</text>
<text x="0" y="0" dy="0.35em" transform="translate(31.82 208.96) rotate(54.19) scale(0.950 1)" font-size="5.6" text-anchor="middle" fill="#222" stroke="#222" stroke-width="0.1">9</text>
<text x="0" y="0" dy="0.35em" transform="translate(12.16 167.74) rotate(74.80) scale(0.950 1)" font-size="5.6" text-anchor="middle" fill="#222" stroke="#222" stroke-width="0.1">10</text>
<text x="0" y="0" dy="0.35em" transform="translate(8.17 123.37) rotate(274.91) scale(0.950 1)" font-size="5.6" text-anchor="middle" fill="#222" stroke="#222" stroke-width="0.1">12</text>
<text x="0" y="0" dy="0.35em" transform="translate(17.91 84.29) rotate(293.07) scale(0.950 1)" font-size="5.6" text-anchor="middle" fill="#222" stroke="#222" stroke-width="0.1">14</text>
<text x="0" y="0" dy="0.35em" transform="translate(35.07 55.34) rotate(308.23) scale(0.950 1)" font-size="5.6" text-anchor="middle" fill="#222" stroke="#222" stroke-width="0.1">16</text>
<text x="0" y="0" dy="0.35em" transform="translate(55.63 34.63) rotate(321.36) scale(0.950 1)" font-size="5.6" text-anchor="middle" fill="#222" stroke="#222" stroke-width="0.1">18</text>
<text x="0" y="0" dy="0.35em" transform="translate(75.00 21.85) rotate(331.80) scale(0.950 1)" font-size="5.6" text-anchor="middle" fill="#222" stroke="#222" stroke-width="0.1">22</text>
<text x="0" y="0" dy="0.35em" transform="translate(107.83 9.69) rotate(347.57) scale(0.950 1)" font-size="5.6" text-anchor="middle" fill="#222" stroke="#222" stroke-width="0.1">X</text>
<path d="M123.44,55.18Q135.3,134.3 83.34,195.13" stroke="#c8c8c8" stroke-width="0.6" fill="none"/>
<path d="M109.60,58.54Q135.3,134.3 83.34,195.13" stroke="#c8c8c8" stroke-width="0.6" fill="none"/>
<path d="M88.71,69.27Q135.3,134.3 83.34,195.13" stroke="#c8c8c8" stroke-width="0.6" fill="none"/>
<path d="M74.67,82.11Q135.3,134.3 83.34,195.13" stroke="#c8c8c8" stroke-width="0.6" fill="none"/>
<path d="M68.62,90.10Q135.3,134.3 83.34,195.13" stroke="#a0a0a0" stroke-width="0.8" fill="none"/>
<path d="M171.93,63.18Q135.3,134.3 83.34,195.13" stroke="#c8c8c8" stroke-width="0.6" fill="none"/>
<path d="M190.99,76.87Q135.3,134.3 83.34,195.13" stroke="#c8c8c8" stroke-width="0.6" fill="none"/>
<path d="M194.84,80.87Q135.3,134.3 83.34,195.13" stroke="#c8c8c8" stroke-width="0.6" fill="none"/>
<path d="M197.64,84.16Q135.3,134.3 83.34,195.13" stroke="#c8c8c8" stroke-width="0.6" fill="none"/>
<path d="M208.02,100.96Q135.3,134.3 83.34,195.13" stroke="#c8c8c8" stroke-width="0.6" fill="none"/>
<path d="M211.47,109.83Q135.3,134.3 83.34,195.13" stroke="#c8c8c8" stroke-width="0.6" fill="none"/>
<path d="M211.84,111.04Q135.3,134.3 83.34,195.13" stroke="#6a6a6a" stroke-width="0.9" fill="none"/>
<path d="M214.24,121.33Q135.3,134.3 83.34,195.13" stroke="#c8c8c8" stroke-width="0.6" fill="none"/>
<path d="M215.12,129.01Q135.3,134.3 83.34,195.13" stroke="#a0a0a0" stroke-width="0.75" fill="none"/>
<path d="M215.18,129.95Q135.3,134.3 83.34,195.13" stroke="#c8c8c8" stroke-width="0.6" fill="none"/>
<path d="M215.26,136.89Q135.3,134.3 83.34,195.13" stroke="#c8c8c8" stroke-width="0.6" fill="none"/>
<path d="M214.73,143.84Q135.3,134.3 83.34,195.13" stroke="#c8c8c8" stroke-width="0.6" fill="none"/>
<path d="M201.62,179.04Q135.3,134.3 83.34,195.13" stroke="#c8c8c8" stroke-width="0.6" fill="none"/>
<path d="M181.29,199.76Q135.3,134.3 83.34,195.13" stroke="#c8c8c8" stroke-width="0.6" fill="none"/>
<path d="M144.76,213.74Q135.3,134.3 83.34,195.13" stroke="#c8c8c8" stroke-width="0.6" fill="none"/>
<path d="M125.69,213.72Q135.3,134.3 83.34,195.13" stroke="#c8c8c8" stroke-width="0.6" fill="none"/>
<path d="M59.30,159.27Q135.3,134.3 83.34,195.13" stroke="#c8c8c8" stroke-width="0.6" fill="none"/>
<path d="M60.40,162.40Q135.3,134.3 83.34,195.13" stroke="#c8c8c8" stroke-width="0.6" fill="none"/>
<path d="M55.31,135.47Q135.3,134.3 83.34,195.13" stroke="#c8c8c8" stroke-width="0.6" fill="none"/>
<path d="M214.75,143.67Q135.3,134.3 83.34,195.13" stroke="#2a2a2a" stroke-width="1.2" fill="none"/>
<path d="M97.05,64.04Q135.3,134.3 83.34,195.13" stroke="#2a2a2a" stroke-width="1.2" fill="none"/>
<path d="M74.40,186.18Q135.3,134.3 83.34,195.13" stroke="#1a1a1a" stroke-width="1.2" fill="none"/>
<path d="M66.21,93.97Q135.3,134.3 83.34,195.13" stroke="#000000" stroke-width="3.4" fill="none"/>
<text x="0" y="0" dy="0.35em" transform="translate(171.89 60.92) rotate(-63.50)" font-size="4.7" text-anchor="start" fill="#222" stroke="#222" stroke-width="0.16" textLength="11.79" lengthAdjust="spacingAndGlyphs">PTPRC</text>
<text x="0" y="0" dy="0.35em" transform="translate(192.06 75.12) rotate(-46.20)" font-size="4.7" text-anchor="start" fill="#222" stroke="#222" stroke-width="0.16" textLength="14.22" lengthAdjust="spacingAndGlyphs">BCL11A</text>
<text x="0" y="0" dy="0.35em" transform="translate(196.24 79.43) rotate(-42.00)" font-size="4.7" text-anchor="start" fill="#74b274" stroke="#74b274" stroke-width="0.16" textLength="6.28" lengthAdjust="spacingAndGlyphs">IGK</text>
<text x="0" y="0" dy="0.35em" transform="translate(199.56 83.37) rotate(-38.40)" font-size="4.7" text-anchor="start" fill="#222" stroke="#222" stroke-width="0.16" textLength="15.86" lengthAdjust="spacingAndGlyphs">BCL2L11</text>
<text x="0" y="0" dy="0.35em" transform="translate(209.80 100.03) rotate(-24.70)" font-size="4.7" text-anchor="start" fill="#222" stroke="#222" stroke-width="0.16" textLength="14.56" lengthAdjust="spacingAndGlyphs">SPAG16</text>
<text x="0" y="0" dy="0.35em" transform="translate(213.42 109.37) rotate(-17.70)" font-size="4.7" text-anchor="start" fill="#222" stroke="#222" stroke-width="0.16" textLength="18.97" lengthAdjust="spacingAndGlyphs">3:9827471</text>
<text x="0" y="0" dy="0.35em" transform="translate(214.54 113.22) rotate(-14.90)" font-size="4.7" text-anchor="start" fill="#222" stroke="#222" stroke-width="0.16" textLength="11.85" lengthAdjust="spacingAndGlyphs">RFTN1</text>
<text x="0" y="0" dy="0.35em" transform="translate(216.30 121.53) rotate(-8.96)" font-size="4.7" text-anchor="start" fill="#222" stroke="#222" stroke-width="0.16" textLength="12.28" lengthAdjust="spacingAndGlyphs">FOXP1</text>
<text x="0" y="0" dy="0.35em" transform="translate(217.08 128.37) rotate(-4.15)" font-size="4.7" text-anchor="start" fill="#222" stroke="#222" stroke-width="0.16" textLength="10.00" lengthAdjust="spacingAndGlyphs">CD96</text>
<text x="0" y="0" dy="0.35em" transform="translate(217.27 131.91) rotate(-1.67)" font-size="4.7" text-anchor="start" fill="#222" stroke="#222" stroke-width="0.16" textLength="23.48" lengthAdjust="spacingAndGlyphs">3:116234516</text>
<text x="0" y="0" dy="0.35em" transform="translate(217.25 137.09) rotate(1.95)" font-size="4.7" text-anchor="start" fill="#222" stroke="#222" stroke-width="0.16" textLength="23.48" lengthAdjust="spacingAndGlyphs">3:152191985</text>
<text x="0" y="0" dy="0.35em" transform="translate(216.84 142.99) rotate(6.08)" font-size="4.7" text-anchor="start" fill="#74b274" stroke="#74b274" stroke-width="0.16" textLength="9.27" lengthAdjust="spacingAndGlyphs">BCL6</text>
<text x="0" y="0" dy="0.35em" transform="translate(216.34 146.80) rotate(8.77)" font-size="4.7" text-anchor="start" fill="#222" stroke="#222" stroke-width="0.16" textLength="6.76" lengthAdjust="spacingAndGlyphs">LPP</text>
<text x="0" y="0" dy="0.35em" transform="translate(203.36 180.04) rotate(33.90)" font-size="4.7" text-anchor="start" fill="#222" stroke="#222" stroke-width="0.16" textLength="27.98" lengthAdjust="spacingAndGlyphs">LOC101928551</text>
<text x="0" y="0" dy="0.35em" transform="translate(182.45 201.39) rotate(54.90)" font-size="4.7" text-anchor="start" fill="#222" stroke="#222" stroke-width="0.16" textLength="19.86" lengthAdjust="spacingAndGlyphs">LINC01170</text>
<text x="0" y="0" dy="0.35em" transform="translate(145.72 215.64) rotate(82.70)" font-size="4.7" text-anchor="start" fill="#222" stroke="#222" stroke-width="0.16" textLength="23.48" lengthAdjust="spacingAndGlyphs">6:138146767</text>
<text x="0" y="0" dy="0.35em" transform="translate(125.25 214.98) rotate(277.10)" font-size="4.7" text-anchor="end" fill="#222" stroke="#222" stroke-width="0.16" textLength="12.43" lengthAdjust="spacingAndGlyphs">VOPP1</text>
<text x="0" y="0" dy="0.35em" transform="translate(83.81 197.21) rotate(309.30)" font-size="4.7" text-anchor="end" fill="#74b274" stroke="#74b274" stroke-width="0.16" textLength="8.47" lengthAdjust="spacingAndGlyphs">MYC</text>
<text x="0" y="0" dy="0.35em" transform="translate(76.82 190.78) rotate(316.00)" font-size="4.7" text-anchor="end" fill="#74b274" stroke="#74b274" stroke-width="0.16" textLength="21.23" lengthAdjust="spacingAndGlyphs">9:37404414</text>
<text x="0" y="0" dy="0.35em" transform="translate(74.22 187.96) rotate(318.70)" font-size="4.7" text-anchor="end" fill="#74b274" stroke="#74b274" stroke-width="0.16" textLength="9.80" lengthAdjust="spacingAndGlyphs">PAX5</text>
<text x="0" y="0" dy="0.35em" transform="translate(72.03 185.35) rotate(321.10)" font-size="4.7" text-anchor="end" fill="#74b274" stroke="#74b274" stroke-width="0.16" textLength="15.22" lengthAdjust="spacingAndGlyphs">ZCCHC7</text>
<text x="0" y="0" dy="0.35em" transform="translate(69.53 182.09) rotate(324.00)" font-size="4.7" text-anchor="end" fill="#74b274" stroke="#74b274" stroke-width="0.16" textLength="21.23" lengthAdjust="spacingAndGlyphs">9:37410695</text>
<text x="0" y="0" dy="0.35em" transform="translate(59.40 163.44) rotate(339.00)" font-size="4.7" text-anchor="end" fill="#222" stroke="#222" stroke-width="0.16" textLength="23.48" lengthAdjust="spacingAndGlyphs">10:28936773</text>
<text x="0" y="0" dy="0.35em" transform="translate(57.98 159.42) rotate(342.00)" font-size="4.7" text-anchor="end" fill="#222" stroke="#222" stroke-width="0.16" textLength="23.48" lengthAdjust="spacingAndGlyphs">10:46092344</text>
<text x="0" y="0" dy="0.35em" transform="translate(54.04 136.71) rotate(358.30)" font-size="4.7" text-anchor="end" fill="#222" stroke="#222" stroke-width="0.16" textLength="21.20" lengthAdjust="spacingAndGlyphs">LOC645177</text>
<text x="0" y="0" dy="0.35em" transform="translate(54.03 132.03) rotate(1.60)" font-size="4.7" text-anchor="end" fill="#222" stroke="#222" stroke-width="0.16" textLength="12.22" lengthAdjust="spacingAndGlyphs">CASC1</text>
<text x="0" y="0" dy="0.35em" transform="translate(65.11 93.28) rotate(30.30)" font-size="4.7" text-anchor="end" fill="#74b274" stroke="#74b274" stroke-width="0.16" textLength="6.76" lengthAdjust="spacingAndGlyphs">IGH</text>
<text x="0" y="0" dy="0.35em" transform="translate(67.51 89.43) rotate(33.50)" font-size="4.7" text-anchor="end" fill="#74b274" stroke="#74b274" stroke-width="0.16" textLength="16.55" lengthAdjust="spacingAndGlyphs">CLEC16A</text>
<text x="0" y="0" dy="0.35em" transform="translate(69.19 86.97) rotate(35.60)" font-size="4.7" text-anchor="end" fill="#74b274" stroke="#74b274" stroke-width="0.16" textLength="12.18" lengthAdjust="spacingAndGlyphs">SOCS1</text>
<text x="0" y="0" dy="0.35em" transform="translate(73.66 81.28) rotate(40.70)" font-size="4.7" text-anchor="end" fill="#222" stroke="#222" stroke-width="0.16" textLength="23.48" lengthAdjust="spacingAndGlyphs">16:84341909</text>
<text x="0" y="0" dy="0.35em" transform="translate(87.17 68.78) rotate(53.70)" font-size="4.7" text-anchor="end" fill="#74b274" stroke="#74b274" stroke-width="0.16" textLength="9.27" lengthAdjust="spacingAndGlyphs">BCL2</text>
<text x="0" y="0" dy="0.35em" transform="translate(96.38 62.92) rotate(61.40)" font-size="4.7" text-anchor="end" fill="#74b274" stroke="#74b274" stroke-width="0.16" textLength="5.97" lengthAdjust="spacingAndGlyphs">IGL</text>
<text x="0" y="0" dy="0.35em" transform="translate(110.04 57.02) rotate(71.90)" font-size="4.7" text-anchor="end" fill="#222" stroke="#222" stroke-width="0.16" textLength="9.40" lengthAdjust="spacingAndGlyphs">DMD</text>
<text x="0" y="0" dy="0.35em" transform="translate(123.14 53.91) rotate(81.40)" font-size="4.7" text-anchor="end" fill="#222" stroke="#222" stroke-width="0.16" textLength="14.18" lengthAdjust="spacingAndGlyphs">RNF128</text>
<rect x="315.00" y="34.20" width="25.2" height="156.00" fill="#a3002b"/>
<text x="0" y="0" transform="translate(327.60 33.00) scale(0.840 1)" font-size="8.6" text-anchor="middle" fill="#222" stroke="#222" stroke-width="0.15">35</text>
<line x1="327.60" y1="205.8" x2="327.60" y2="208.6" stroke="#333" stroke-width="0.9"/>
<text x="0" y="0" transform="translate(332.20 216.40) rotate(-45.00) scale(0.800 1)" font-size="9.0" text-anchor="end" fill="#222" stroke="#222" stroke-width="0.15">IGH</text>
<rect x="343.00" y="150.09" width="25.2" height="40.11" fill="#a3002b"/>
<text x="0" y="0" transform="translate(355.60 148.89) scale(0.840 1)" font-size="8.6" text-anchor="middle" fill="#222" stroke="#222" stroke-width="0.15">9</text>
<line x1="355.60" y1="205.8" x2="355.60" y2="208.6" stroke="#333" stroke-width="0.9"/>
<text x="0" y="0" transform="translate(360.20 216.40) rotate(-45.00) scale(0.800 1)" font-size="9.0" text-anchor="end" fill="#222" stroke="#222" stroke-width="0.15">BCL6</text>
<rect x="371.00" y="154.54" width="25.2" height="35.66" fill="#a3002b"/>
<text x="0" y="0" transform="translate(383.60 153.34) scale(0.840 1)" font-size="8.6" text-anchor="middle" fill="#222" stroke="#222" stroke-width="0.15">8</text>
<line x1="383.60" y1="205.8" x2="383.60" y2="208.6" stroke="#333" stroke-width="0.9"/>
<text x="0" y="0" transform="translate(388.20 216.40) rotate(-45.00) scale(0.800 1)" font-size="9.0" text-anchor="end" fill="#222" stroke="#222" stroke-width="0.15">ZCCHC7</text>
<rect x="399.00" y="159.00" width="25.2" height="31.20" fill="#a3002b"/>
<text x="0" y="0" transform="translate(411.60 157.80) scale(0.840 1)" font-size="8.6" text-anchor="middle" fill="#222" stroke="#222" stroke-width="0.15">7</text>
<line x1="411.60" y1="205.8" x2="411.60" y2="208.6" stroke="#333" stroke-width="0.9"/>
<text x="0" y="0" transform="translate(416.20 216.40) rotate(-45.00) scale(0.800 1)" font-size="9.0" text-anchor="end" fill="#222" stroke="#222" stroke-width="0.15">IGL</text>
<rect x="427.00" y="172.37" width="25.2" height="17.83" fill="#a3002b"/>
<text x="0" y="0" transform="translate(439.60 171.17) scale(0.840 1)" font-size="8.6" text-anchor="middle" fill="#222" stroke="#222" stroke-width="0.15">4</text>
<line x1="439.60" y1="205.8" x2="439.60" y2="208.6" stroke="#333" stroke-width="0.9"/>
<text x="0" y="0" transform="translate(444.20 216.40) rotate(-45.00) scale(0.800 1)" font-size="9.0" text-anchor="end" fill="#222" stroke="#222" stroke-width="0.15">RFTN1</text>
<rect x="455.00" y="181.29" width="25.2" height="8.91" fill="#a3002b"/>
<text x="0" y="0" transform="translate(467.60 180.09) scale(0.840 1)" font-size="8.6" text-anchor="middle" fill="#222" stroke="#222" stroke-width="0.15">2</text>
<line x1="467.60" y1="205.8" x2="467.60" y2="208.6" stroke="#333" stroke-width="0.9"/>
<text x="0" y="0" transform="translate(472.20 216.40) rotate(-45.00) scale(0.800 1)" font-size="9.0" text-anchor="end" fill="#222" stroke="#222" stroke-width="0.15">CD96</text>
<rect x="483.00" y="181.29" width="25.2" height="8.91" fill="#a3002b"/>
<text x="0" y="0" transform="translate(495.60 180.09) scale(0.840 1)" font-size="8.6" text-anchor="middle" fill="#222" stroke="#222" stroke-width="0.15">2</text>
<line x1="495.60" y1="205.8" x2="495.60" y2="208.6" stroke="#333" stroke-width="0.9"/>
<text x="0" y="0" transform="translate(500.20 216.40) rotate(-45.00) scale(0.800 1)" font-size="9.0" text-anchor="end" fill="#222" stroke="#222" stroke-width="0.15">SOCS1</text>
<line x1="308.0" y1="190.20" x2="311" y2="190.20" stroke="#333" stroke-width="0.9"/>
<text x="0" y="0" transform="translate(305.00 193.90) scale(0.860 1)" font-size="9.3" text-anchor="end" fill="#222" stroke="#222" stroke-width="0.15">0</text>
<line x1="308.0" y1="167.91" x2="311" y2="167.91" stroke="#333" stroke-width="0.9"/>
<text x="0" y="0" transform="translate(305.00 171.61) scale(0.860 1)" font-size="9.3" text-anchor="end" fill="#222" stroke="#222" stroke-width="0.15">5</text>
<line x1="308.0" y1="145.63" x2="311" y2="145.63" stroke="#333" stroke-width="0.9"/>
<text x="0" y="0" transform="translate(305.00 149.33) scale(0.860 1)" font-size="9.3" text-anchor="end" fill="#222" stroke="#222" stroke-width="0.15">10</text>
<line x1="308.0" y1="123.34" x2="311" y2="123.34" stroke="#333" stroke-width="0.9"/>
<text x="0" y="0" transform="translate(305.00 127.04) scale(0.860 1)" font-size="9.3" text-anchor="end" fill="#222" stroke="#222" stroke-width="0.15">15</text>
<line x1="308.0" y1="101.06" x2="311" y2="101.06" stroke="#333" stroke-width="0.9"/>
<text x="0" y="0" transform="translate(305.00 104.76) scale(0.860 1)" font-size="9.3" text-anchor="end" fill="#222" stroke="#222" stroke-width="0.15">20</text>
<line x1="308.0" y1="78.77" x2="311" y2="78.77" stroke="#333" stroke-width="0.9"/>
<text x="0" y="0" transform="translate(305.00 82.47) scale(0.860 1)" font-size="9.3" text-anchor="end" fill="#222" stroke="#222" stroke-width="0.15">25</text>
<line x1="308.0" y1="56.49" x2="311" y2="56.49" stroke="#333" stroke-width="0.9"/>
<text x="0" y="0" transform="translate(305.00 60.19) scale(0.860 1)" font-size="9.3" text-anchor="end" fill="#222" stroke="#222" stroke-width="0.15">30</text>
<line x1="308.0" y1="34.20" x2="311" y2="34.20" stroke="#333" stroke-width="0.9"/>
<text x="0" y="0" transform="translate(305.00 37.90) scale(0.860 1)" font-size="9.3" text-anchor="end" fill="#222" stroke="#222" stroke-width="0.15">35</text>
<line x1="311.2" y1="18.5" x2="311.2" y2="206.4" stroke="#333" stroke-width="1.5"/>
<line x1="310.45" y1="205.7" x2="512.8" y2="205.7" stroke="#333" stroke-width="1.5"/>
<text x="0" y="0" transform="translate(411.40 252.60) scale(0.940 1)" font-size="10.0" text-anchor="middle" fill="#1a1a1a" stroke="#1a1a1a" stroke-width="0.15">MYC partner</text>
<text x="0" y="0" transform="translate(289.20 111.75) rotate(-90.00) scale(0.970 1)" font-size="10.0" text-anchor="middle" fill="#1a1a1a" stroke="#1a1a1a" stroke-width="0.15">Number of rearrangements</text>
<rect x="0" y="0" width="520" height="1.4" fill="#111"/>
<rect x="0" y="0" width="1.2" height="269" fill="#111"/>
<rect x="517.9" y="0" width="2.1" height="269" fill="#1a1a1a"/>
<rect x="0" y="266.9" width="520" height="2.1" fill="#1a1a1a"/>
</svg>
</body></html>
